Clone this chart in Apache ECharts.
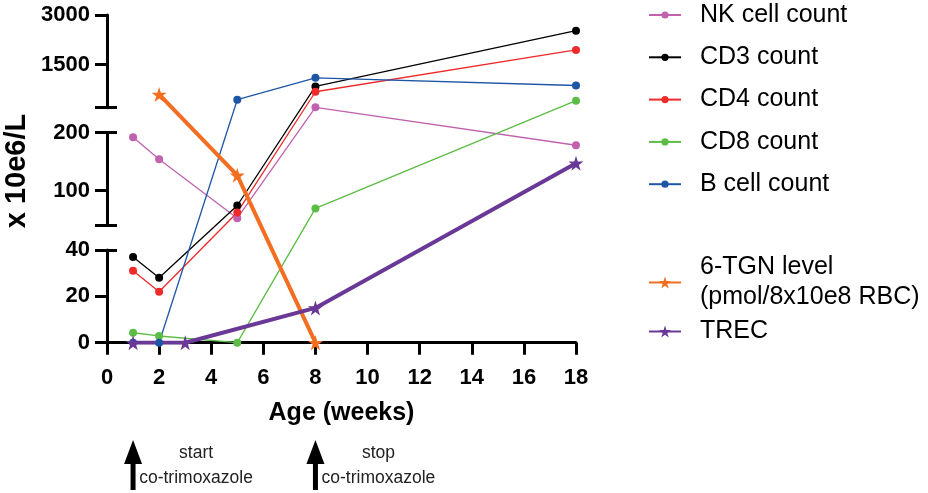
<!DOCTYPE html>
<html>
<head>
<meta charset="utf-8">
<script src="https://cdn.jsdelivr.net/npm/echarts@6/dist/echarts.min.js"></script>
<style>html,body{margin:0;padding:0;background:#fff;}#c{width:928px;height:493px;}</style>
</head>
<body>
<div id="c"></div>
<script>
// ---------- data ----------
const cellWeeks = [1, 2, 5, 8, 18];
const nkCounts  = [192, 154, 52, 210, 178];
const cd3Counts = [37, 28, 74, 841, 2527];
const cd4Counts = [31, 22, 62, 682, 1946];
const cd8Counts = [4.3, 2.9, 0, 69, 411];
const bCounts   = [0, 0, 441, 1103, 871];
const tgnWeeks  = [2, 5, 8];
const tgnLevels = [600, 126, 0];
const trecWeeks = [1, 3, 8, 18];
const trecValues = [0, 0, 15, 147];
const xTicks = [0, 2, 4, 6, 8, 10, 12, 14, 16, 18];
const segRanges = [[0, 40], [40, 200], [200, 3000]];
const segTicks = [[0, 20, 40], [100, 200], [1500, 3000]];
const segLeftTicks = [[0, 20, 40], [40, 100, 200], [200, 1500, 3000]];
const segCaps = [[40], [40, 200], [200]];
const seriesNames = ['NK cell count', 'CD3 count', 'CD4 count', 'CD8 count', 'B cell count'];
const starNames = ['6-TGN level\n(pmol/8x10e8 RBC)', 'TREC'];

// ---------- layout ----------
const GAP = 0.2675;            // gap between axis segments, as fraction of a segment
const PLOT_LEFT = 107, PLOT_RIGHT = 352, PLOT_TOP = 15, PLOT_BOTTOM_PX = 342.7;
const PLOT_H = PLOT_BOTTOM_PX - PLOT_TOP;
const DMAX = 3 + 2 * GAP;
const UNIT = PLOT_H / DMAX;
const FONT = 'Liberation Sans, Arial, Helvetica, sans-serif';

// broken-axis scale: real value -> stacked display units
function toDisplay(v) {
  for (let k = 0; k < segRanges.length; k++) {
    const [lo, hi] = segRanges[k];
    if (v <= hi || k === segRanges.length - 1) {
      return k * (1 + GAP) + (v - lo) / (hi - lo);
    }
  }
}
const pairs = (xs, ys) => xs.map((x, i) => [x, toDisplay(ys[i])]);

const STAR = 'path://M50,0 L61.2,34.5 L97.6,34.5 L68.2,55.9 L79.4,90.5 L50,69.1 L20.6,90.5 L31.8,55.9 L2.4,34.5 L38.8,34.5 Z';
const cellColors = ['#C062AE', '#000000', '#EE2A2A', '#5CBC45', '#1E56A6'];

const grids = [{ left: PLOT_LEFT, right: PLOT_RIGHT, top: PLOT_TOP, bottom: 493 - PLOT_BOTTOM_PX }];
const xAxes = [{
  gridIndex: 0, type: 'value', min: 0, max: 18, interval: 2,
  axisLine: { show: true, lineStyle: { color: '#000', width: 3 } },
  axisTick: { show: true, length: 12, lineStyle: { color: '#000', width: 3 } },
  axisLabel: { color: '#000', fontSize: 22, fontWeight: 'bold', fontFamily: FONT, margin: 24,
               formatter: v => String(v) },
  splitLine: { show: false },
  name: 'Age (weeks)', nameLocation: 'middle', nameGap: 58,
  nameTextStyle: { color: '#000', fontSize: 25, fontWeight: 'bold', fontFamily: FONT }
}];
const yAxes = [{ gridIndex: 0, type: 'value', min: 0, max: DMAX, show: false }];

segRanges.forEach((r, k) => {
  const segTop = PLOT_TOP + (DMAX - (k * (1 + GAP) + 1)) * UNIT;
  grids.push({ left: PLOT_LEFT, right: PLOT_RIGHT, top: segTop, height: UNIT });
  xAxes.push({ gridIndex: k + 1, type: 'value', min: 0, max: 18, show: false });
  yAxes.push({
    gridIndex: k + 1, type: 'value', min: r[0], max: r[1], position: 'left',
    axisLine: { show: true, onZero: false, lineStyle: { color: '#000', width: 3 } },
    axisTick: { show: true, length: 12, customValues: segLeftTicks[k], lineStyle: { color: '#000', width: 3 } },
    axisLabel: { show: true, customValues: segTicks[k], color: '#000', fontSize: 22, fontWeight: 'bold',
                 fontFamily: FONT, margin: 17, formatter: v => String(v) },
    splitLine: { show: false }
  });
  yAxes.push({
    gridIndex: k + 1, type: 'value', min: r[0], max: r[1], position: 'left',
    axisLine: { show: false },
    axisTick: { show: true, inside: true, length: 10, customValues: segCaps[k], lineStyle: { color: '#000', width: 3 } },
    axisLabel: { show: false },
    splitLine: { show: false }
  });
});

const cellData = [nkCounts, cd3Counts, cd4Counts, cd8Counts, bCounts];
const series = cellData.map((vals, i) => ({
  name: seriesNames[i], type: 'line', xAxisIndex: 0, yAxisIndex: 0,
  data: pairs(cellWeeks, vals),
  symbol: 'circle', symbolSize: 8, showAllSymbol: true,
  lineStyle: { color: cellColors[i], width: 1.3 },
  itemStyle: { color: cellColors[i] },
  emphasis: { disabled: true }, animation: false
}));
series.push({
  name: starNames[0], type: 'line', data: pairs(tgnWeeks, tgnLevels),
  symbol: STAR, symbolSize: 15,
  lineStyle: { color: '#F36E21', width: 4 }, itemStyle: { color: '#F36E21' },
  emphasis: { disabled: true }, animation: false
});
series.push({
  name: starNames[1], type: 'line', data: pairs(trecWeeks, trecValues),
  symbol: STAR, symbolSize: 15,
  lineStyle: { color: '#6A3896', width: 4 }, itemStyle: { color: '#6A3896' },
  emphasis: { disabled: true }, animation: false
});

const legendText = { color: '#000', fontSize: 25, fontFamily: FONT, lineHeight: 30, padding: [0, 0, 0, 14] };
const chart = echarts.init(document.getElementById('c'), null, { renderer: 'canvas' });
chart.setOption({
  animation: false,
  backgroundColor: '#fff',
  grid: grids, xAxis: xAxes, yAxis: yAxes, series,
  legend: [
    { data: seriesNames, orient: 'vertical', left: 648, top: 0, padding: 0, itemGap: 12.3,
      itemWidth: 32, itemHeight: 9, textStyle: legendText, selectedMode: false },
    { data: starNames, orient: 'vertical', left: 648, top: 252.5, padding: 0, itemGap: 4,
      itemWidth: 32, itemHeight: 15, textStyle: legendText, selectedMode: false }
  ]
});

// annotations: y title and treatment arrows
const annot = [{
  type: 'text', x: 17, y: 171, rotation: Math.PI / 2,
  style: { text: 'x 10e6/L', fill: '#000', font: 'bold 29px ' + FONT, textAlign: 'center', textVerticalAlign: 'middle' }
}];
const events = [[1, 'start'], [8, 'stop']];
events.forEach(([wk, label]) => {
  const cx = chart.convertToPixel({ xAxisIndex: 0 }, wk);
  annot.push({ type: 'polygon', shape: { points: [[cx, 440], [cx - 9, 464], [cx + 9, 464]] }, style: { fill: '#000' } });
  annot.push({ type: 'rect', shape: { x: cx - 2.5, y: 463, width: 5, height: 27 }, style: { fill: '#000' } });
  annot.push({ type: 'text', x: cx + 63, y: 453, style: { text: label, fill: '#222', font: '17.5px ' + FONT, textAlign: 'center', textVerticalAlign: 'middle' } });
  annot.push({ type: 'text', x: cx + 63, y: 478, style: { text: 'co-trimoxazole', fill: '#222', font: '17.5px ' + FONT, textAlign: 'center', textVerticalAlign: 'middle' } });
});
chart.setOption({ graphic: annot });
</script>
</body>
</html>
